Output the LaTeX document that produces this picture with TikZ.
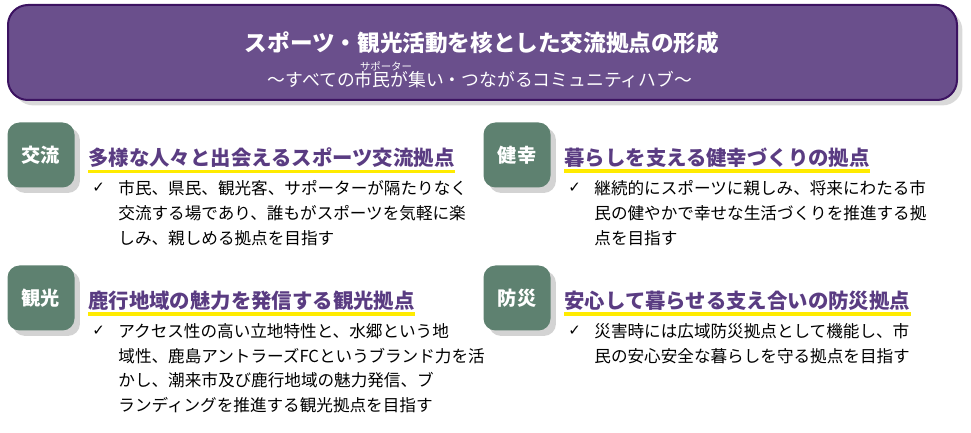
\documentclass[tikz,border=0pt]{standalone}
\usepackage{fontspec}
\setmainfont{Noto Sans CJK JP}
\newfontfamily\symfont{DejaVu Sans}
\usetikzlibrary{positioning,shadows}
\definecolor{hdrfill}{HTML}{6A4F8C}
\definecolor{hdrline}{HTML}{3C1361}
\definecolor{badgefill}{HTML}{5E8170}
\definecolor{headcol}{HTML}{5A3C82}
\definecolor{markline}{HTML}{FFEB00}
\tikzset{
  badge/.style={rounded corners=6pt,fill=badgefill,minimum width=33.5pt,minimum height=32.5pt,
    text=white,font=\fontsize{9.6}{10}\selectfont\bfseries,drop shadow={opacity=0.35}},
  heading/.style={anchor=west,text=headcol,font=\fontsize{10.2}{11}\selectfont\bfseries,inner sep=0pt},
  uline/.style={markline,line width=1.8pt},
  body/.style={anchor=north west,align=left,inner sep=0pt,font=\fontsize{8.3}{12.4}\selectfont},
  tick/.style={anchor=north west,inner sep=0pt,font=\symfont\fontsize{7.5}{12}\selectfont}
}
\begin{document}
\begin{tikzpicture}[x=0.5pt,y=-0.5pt]
\useasboundingbox (0,0) rectangle (971,433);
% header
\draw[hdrline,fill=hdrfill,line width=1pt,rounded corners=10pt,drop shadow={opacity=0.3}] (8,5) rectangle (957,100);
\node[text=white,font=\fontsize{11.3}{12}\selectfont\bfseries] (title) at (482,43) {スポーツ・観光活動を核とした交流拠点の形成};
\node[text=white,font=\fontsize{5.2}{6}\selectfont,inner sep=0pt] (ruby) at (386,66) {サポーター};
\node[text=white,font=\fontsize{8.9}{10}\selectfont,inner sep=0pt] (sub) at (480,80) {〜すべての市民が集い・つながるコミュニティハブ〜};

% badges
\node[badge] (b1) at (41,155) {交流};
\node[badge] (b2) at (41,298) {観光};
\node[badge] (b3) at (517,155) {健幸};
\node[badge] (b4) at (517,298) {防災};

% headings
\node[heading] (h1) at (88,158) {多様な人々と出会えるスポーツ交流拠点};
\node[heading] (h2) at (88,301) {鹿行地域の魅力を発信する観光拠点};
\node[heading] (h3) at (564,158) {暮らしを支える健幸づくりの拠点};
\node[heading] (h4) at (564,301) {安心して暮らせる支え合いの防災拠点};
\foreach \h in {h1,h2,h3,h4}
  \draw[uline] ([yshift=-1.5pt]\h.south west) -- ([yshift=-1.5pt]\h.south east);

% bullets
\node[tick] (t1) at (92,183) {✓};
\node[body] (x1) at (118,180) {市民、県民、観光客、サポーターが隔たりなく\\交流する場であり、誰もがスポーツを気軽に楽\\しみ、親しめる拠点を目指す};
\node[tick] (t2) at (92,326) {✓};
\node[body] (x2) at (118,323) {アクセス性の高い立地特性と、水郷という地\\域性、鹿島アントラーズFCというブランド力を活\\かし、潮来市及び鹿行地域の魅力発信、ブ\\ランディングを推進する観光拠点を目指す};
\node[tick] (t3) at (568,183) {✓};
\node[body] (x3) at (594,180) {継続的にスポーツに親しみ、将来にわたる市\\民の健やかで幸せな生活づくりを推進する拠\\点を目指す};
\node[tick] (t4) at (568,326) {✓};
\node[body] (x4) at (594,323) {災害時には広域防災拠点として機能し、市\\民の安心安全な暮らしを守る拠点を目指す};
\end{tikzpicture}
\end{document}
